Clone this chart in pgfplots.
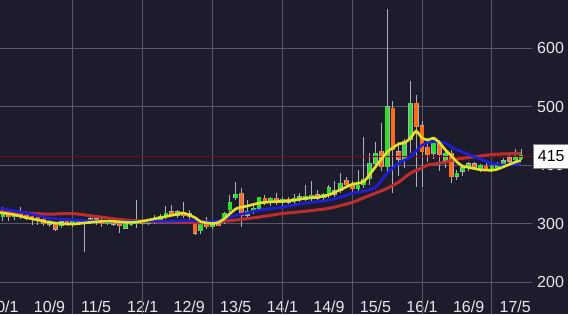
\documentclass[border=0pt]{standalone}
\usepackage{pgfplots}
\pgfplotsset{compat=1.18}
\usepackage{pgfplotstable}
\usepackage{fontspec}
\setmainfont{Liberation Sans}
\definecolor{bg}{RGB}{28,28,44}
\definecolor{gridc}{RGB}{88,88,104}
\definecolor{labc}{RGB}{232,232,236}
\definecolor{upc}{RGB}{40,225,40}
\definecolor{dnc}{RGB}{255,106,20}
\definecolor{wickc}{RGB}{175,175,185}
\definecolor{ma1}{RGB}{226,226,40}
\definecolor{ma2}{RGB}{30,30,225}
\definecolor{ma3}{RGB}{190,45,45}
\definecolor{lastc}{RGB}{130,10,10}

\pgfplotstableread{
k O H L C
0 311 328 305 319
2 312 320 306 316
8 300 306 294 303
10 296 305 292 303
12 300 305 294 303
14 302 306 251 304
15 304 313 300 307
18 302 306 297 303
21 292 303 290 300
22 300 306 296 302
23 302 340 292 304
25 302 307 298 304
26 303 314 299 306
27 306 316 302 312
28 311 330 308 318
30 316 323 310 318
34 287 305 282 300
36 295 303 290 300
38 306 320 300 318
39 323 349 320 337
40 345 371 340 349
42 314 340 310 321
43 321 335 316 326
44 326 346 322 345
46 335 345 330 343
48 337 345 330 340
50 338 350 334 343
51 342 352 336 344
52 343 366 338 345
53 344 372 338 347
55 345 352 338 349
56 349 365 344 361
58 357 386 352 369
61 360 392 355 364
62 366 448 360 376
63 376 420 365 403
64 403 440 395 420
66 397 666 390 500
69 410 445 395 440
70 443 544 420 506
74 420 445 410 440
76 408 425 395 420
78 381 392 375 386
79 390 400 382 395
80 397 405 390 402
82 395 402 388 398
84 392 400 388 397
85 397 405 392 400
86 402 412 398 407
88 409 427 405 414
89 412 427 408 415
}\upt

\pgfplotstableread{
k O H L C
1 316 322 305 312
3 316 328 308 313
4 313 318 306 310
5 311 316 297 309
6 309 314 298 306
7 307 310 296 299
9 300 303 288 290
11 302 306 296 300
13 303 307 298 302
16 307 310 298 303
17 303 312 294 302
19 303 306 296 300
20 302 305 283 296
24 304 308 298 302
29 318 331 312 316
31 318 337 310 315
32 315 323 306 313
33 300 306 280 283
35 298 311 290 296
37 300 307 295 298
41 352 360 294 313
45 343 348 332 336
47 343 352 332 335
49 340 346 334 338
54 348 358 340 344
57 355 372 345 351
59 374 380 360 366
60 366 372 354 359
65 424 472 390 397
67 497 510 352 426
68 423 440 382 410
71 506 520 362 465
72 467 475 362 422
73 431 445 405 417
75 438 442 390 417
77 420 425 370 380
81 402 406 392 396
83 398 403 390 392
87 412 418 404 407
}\dnt

\begin{document}
\begin{tikzpicture}
\path[use as bounding box, fill=bg] (0,0) rectangle (568pt,314pt);
\begin{axis}[
  at={(0,0)}, anchor=south west,
  scale only axis, width=532pt, height=314pt,
  xmin=-0.515, xmax=90.89, ymin=145.3, ymax=682.1,
  axis line style={draw=none},
  xtick={0,8,...,88},
  xticklabels={10/1,10/9,11/5,12/1,12/9,13/5,14/1,14/9,15/5,16/1,16/9,17/5},
  extra x ticks={12,24,36,48,60,72,84},
  extra x tick labels={},
  extra x tick style={grid=major},
  ytick={200,300,400,500,600},
  ymajorgrids,
  grid style={draw=gridc, line width=0.9pt},
  major tick length=0pt,
  yticklabel pos=right,
  yticklabel style={anchor=west, inner sep=0pt, xshift=5pt},
  xticklabel shift=0pt,
  xticklabel style={anchor=base, inner sep=0pt, yshift=2pt},
  tick label style={text=labc, font=\fontsize{16}{16}\selectfont},
  /pgf/number format/assume math mode=true,
  clip=true,
]
% wicks
\addplot[draw=none, mark=none, forget plot,
  error bars/.cd, y dir=both, y explicit, error mark=none,
  error bar style={draw=wickc, line width=1pt}]
  table[x=k, y expr={(\thisrow{H}+\thisrow{L})/2}, y error expr={(\thisrow{H}-\thisrow{L})/2}] {\upt};
\addplot[draw=none, mark=none, forget plot,
  error bars/.cd, y dir=both, y explicit, error mark=none,
  error bar style={draw=wickc, line width=1pt}]
  table[x=k, y expr={(\thisrow{H}+\thisrow{L})/2}, y error expr={(\thisrow{H}-\thisrow{L})/2}] {\dnt};
% body outlines
\addplot[draw=none, mark=none, forget plot,
  error bars/.cd, y dir=both, y explicit, error mark=none,
  error bar style={draw=wickc, line width=4.8pt}]
  table[x=k, y expr={(\thisrow{O}+\thisrow{C})/2}, y error expr={max(abs(\thisrow{C}-\thisrow{O})/2,3.0)+0.6}] {\upt};
\addplot[draw=none, mark=none, forget plot,
  error bars/.cd, y dir=both, y explicit, error mark=none,
  error bar style={draw=wickc, line width=4.8pt}]
  table[x=k, y expr={(\thisrow{O}+\thisrow{C})/2}, y error expr={max(abs(\thisrow{C}-\thisrow{O})/2,3.0)+0.6}] {\dnt};
% bodies
\addplot[draw=none, mark=none, forget plot,
  error bars/.cd, y dir=both, y explicit, error mark=none,
  error bar style={draw=upc, line width=3.6pt}]
  table[x=k, y expr={(\thisrow{O}+\thisrow{C})/2}, y error expr={max(abs(\thisrow{C}-\thisrow{O})/2,3.0)}] {\upt};
\addplot[draw=none, mark=none, forget plot,
  error bars/.cd, y dir=both, y explicit, error mark=none,
  error bar style={draw=dnc, line width=3.6pt}]
  table[x=k, y expr={(\thisrow{O}+\thisrow{C})/2}, y error expr={max(abs(\thisrow{C}-\thisrow{O})/2,3.0)}] {\dnt};
% last price line
\addplot[lastc, line width=1pt] coordinates {(-1,415) (92,415)};
% long MA (red)
\addplot[ma3, line width=3pt, smooth, tension=0.4] coordinates {
(-1,320) (0,320) (4,318) (8,316) (12,317) (16,312) (20,307) (24,304) (28,303) (32,302) (34,301)
(36,302) (40,306) (44,311) (48,317) (52,321) (56,326) (60,336) (62,344) (64,352) (66,360)
(68,371) (70,386) (72,395) (73,400) (76,405) (78,410) (81,414) (84,418) (86,419) (89,420)};
% mid MA (blue)
\addplot[ma2, line width=2.6pt, smooth, tension=0.4] coordinates {
(-1,326) (0,325) (4,318) (8,309) (12,306) (16,304) (20,303) (24,304) (28,304) (32,305) (34,304)
(36,303) (38,308) (40,314) (42,318) (44,323) (48,328) (52,335) (56,340) (58,345) (60,352)
(62,355) (64,362) (66,386) (68,403) (70,414) (72,434) (74,440) (76,438) (77,431) (78,426)
(80,418) (82,410) (84,403) (86,400) (88,401) (89,402)};
% short MA (yellow)
\addplot[ma1, line width=2.6pt, smooth, tension=0.4] coordinates {
(-1,319) (0,318) (2,315) (4,310) (6,306) (8,302) (10,300) (12,299) (14,301) (16,303) (18,304)
(20,303) (22,302) (24,304) (26,308) (28,312) (30,316) (31,318) (33,310) (34,303) (36,300)
(37,302) (38,308) (40,325) (42,330) (44,335) (46,337) (48,338) (50,340) (52,343) (54,345)
(56,349) (58,358) (60,367) (62,372) (64,397) (66,422) (68,436) (69,438) (70,446) (71,458)
(72,446) (73,443) (74,446) (75,438) (76,426) (77,416) (78,405) (79,398) (80,396) (82,392)
(84,391) (85,393) (86,397) (87,401) (88,405) (89,408)};
\end{axis}
\node[fill=white, draw=gray, line width=0.6pt, anchor=west, minimum height=24pt,
  minimum width=36pt, inner sep=1pt, text=black,
  font=\fontsize{16}{16}\selectfont] at (533pt,157.8pt) {415};
\end{tikzpicture}
\end{document}
